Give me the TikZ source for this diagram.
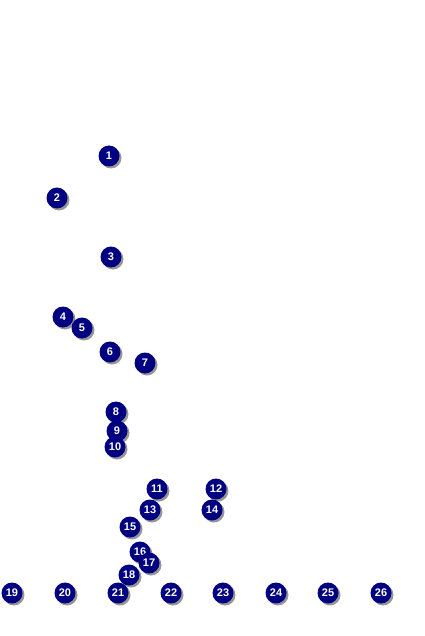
\documentclass[tikz,border=0pt]{standalone}
\usepackage{fontspec}
\setmainfont{Liberation Sans}
\definecolor{navy}{RGB}{0,0,128}
\definecolor{shade}{RGB}{150,150,150}
\begin{document}
\begin{tikzpicture}[x=1pt,y=-1pt,
  ball/.style={circle,fill=navy,text=white,inner sep=0pt,minimum size=21pt,
    font=\bfseries\fontsize{11}{11}\selectfont,
    preaction={fill=shade,transform canvas={shift={(2pt,-2pt)}}}}]
\useasboundingbox (0,0) rectangle (424,636);
\foreach \n/\x/\y in {1/109/156,2/57/198,3/111/257,4/63/317,5/82/328,6/110/352,7/145/363,
  8/116/412,9/117/431,10/115/447,11/157/489,12/216/489,13/150/510,14/212/510,15/130/527,
  16/140/552,17/149/563,18/129/575,19/12/593,20/65/593,21/118/593,22/171/593,23/223/593,
  24/276/593,25/328/593,26/381/593}
  \node[ball] (b\n) at (\x,\y) {\n};
\end{tikzpicture}
\end{document}
